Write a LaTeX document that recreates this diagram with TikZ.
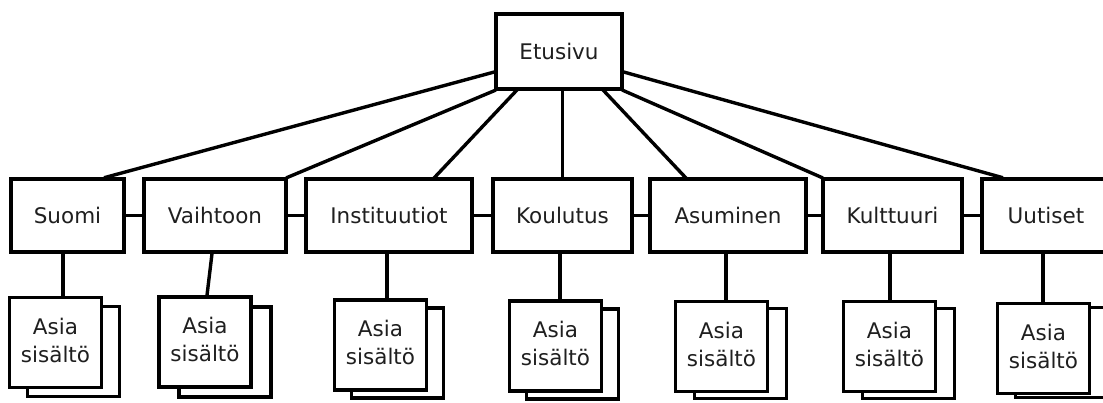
\documentclass[tikz,border=0pt]{standalone}
\usepackage{fontspec}
\setmainfont{DejaVu Sans}
\usetikzlibrary{calc}
\begin{document}
\begin{tikzpicture}[x=1pt,y=-1pt,
  every node/.style={font=\fontsize{21.5}{28}\selectfont, text=black!88},
  box/.style={draw, line width=3.4pt, fill=white, rectangle, inner sep=0pt, minimum height=73pt},
  page/.style={draw, line width=3.4pt, fill=white, rectangle, inner sep=0pt,
               minimum width=92pt, minimum height=90pt},
  link/.style={line width=3.4pt, line cap=rect}]
\useasboundingbox (0,0) rectangle (1103,403);
\clip (0,0) rectangle (1103,403);

% top page
\node[box, minimum width=126pt, minimum height=75pt] (etu) at (559,51.5) {Etusivu};

% section boxes
\node[box, minimum width=113pt] (suomi) at (67.5,215.5) {Suomi};
\node[box, minimum width=142pt] (vaih)  at (215,215.5)  {Vaihtoon};
\node[box, minimum width=166pt] (inst)  at (389,215.5)  {Instituutiot};
\node[box, minimum width=139pt] (koul)  at (562.5,215.5) {Koulutus};
\node[box, minimum width=156pt] (asum)  at (728,215.5)  {Asuminen};
\node[box, minimum width=139pt] (kult)  at (892.5,215.5) {Kulttuuri};
\node[box, minimum width=128pt] (uut)   at (1046,215.5) {Uutiset};

% stacked content pages: back sheet, then front sheet
\newcommand{\pagestack}[5]{%
  \node[page] (#1b) at ($(#2,#3)+(#4,#5)$) {};
  \node[page] (#1) at (#2,#3)
    {\raisebox{6pt}{\begin{tabular}{@{}c@{}}Asia\\sisältö\end{tabular}}};
}
\pagestack{pS}{55.5}{342.5}{18}{9}
\pagestack{pV}{205}{342}{20}{10}
\pagestack{pI}{380.5}{345}{17}{8}
\pagestack{pK}{555.5}{346}{17}{8}
\pagestack{pA}{721.5}{346.5}{19}{7}
\pagestack{pU}{889.5}{346.5}{19}{7}
\pagestack{pN}{1043.5}{348.5}{18}{4}

% links from the front page to the sections
\draw[link] ($(etu.west)+(0,20.5)$) -- ($(suomi.north east)+(-20,0)$);
\draw[link] (etu.south west) -- (vaih.north east);
\draw[link] ($(etu.south west)+(22,0)$) -- ($(inst.north east)+(-39,0)$);
\draw[link] ($(etu.south)+(3.5,0)$) -- (koul.north);
\draw[link] ($(etu.south east)+(-20,0)$) -- ($(asum.north west)+(37,0)$);
\draw[link] (etu.south east) -- (kult.north west);
\draw[link] ($(etu.east)+(0,20.5)$) -- ($(uut.north west)+(21,0)$);

% links between neighbouring sections
\draw[link] (suomi.east) -- (vaih.west);
\draw[link] (vaih.east) -- (inst.west);
\draw[link] (inst.east) -- (koul.west);
\draw[link] (koul.east) -- (asum.west);
\draw[link] (asum.east) -- (kult.west);
\draw[link] (kult.east) -- (uut.west);

% links from sections to their content pages
\draw[link] ($(suomi.south)+(-4.5,0)$) -- ($(pS.north)+(7.5,0)$);
\draw[link] ($(vaih.south)+(-3,0)$) -- ($(pV.north)+(2,0)$);
\draw[link] ($(inst.south)+(-2,0)$) -- ($(pI.north)+(6.5,0)$);
\draw[link] ($(koul.south)+(-2.5,0)$) -- ($(pK.north)+(4.5,0)$);
\draw[link] ($(asum.south)+(-2,0)$) -- ($(pA.north)+(4.5,0)$);
\draw[link] ($(kult.south)+(-2.5,0)$) -- ($(pU.north)+(0.5,0)$);
\draw[link] ($(uut.south)+(-3,0)$) -- ($(pN.north)+(-0.5,0)$);
\end{tikzpicture}
\end{document}
